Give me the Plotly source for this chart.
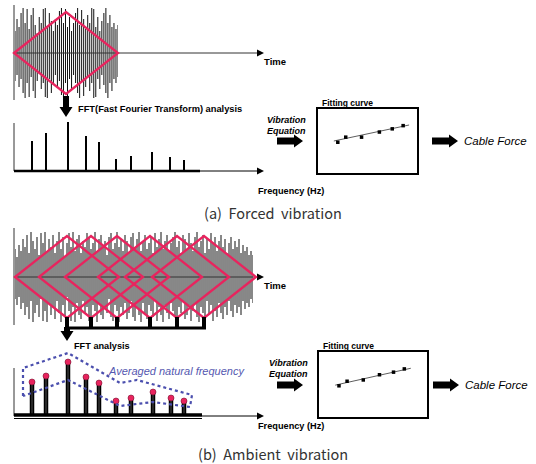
import plotly.graph_objects as go

W, H = 536, 464

# ------------------------- data -------------------------
# (a) forced vibration: time record (successive excursions, px)
sig_a = [28, 22, 34, 26, 40, 45, 30, 44, 24, 38, 45, 28, 20, 36, 30, 44, 45, 26,
         40, 32, 22, 34, 28, 42, 45, 30, 44, 26, 36, 22, 30, 40, 45, 28, 43, 34,
         24, 38, 30, 45, 44, 26, 36, 22, 32, 40, 45, 30, 38, 26, 30, 24]
# (b) ambient vibration: time record
sig_b = [22, 28, 20, 32, 26, 38, 30, 42, 24, 45, 36, 28, 40, 22, 44, 34, 45, 26, 38, 30,
         42, 24, 36, 45, 28, 40, 20, 34, 44, 30, 45, 26, 38, 42, 24, 36, 30, 44, 40, 28,
         34, 45, 26, 38, 42, 30, 36, 22, 40, 44, 28, 34, 45, 30, 38, 26, 42, 36, 24, 40,
         44, 30, 38, 45, 26, 36, 42, 28, 34, 40, 24, 44, 30, 38, 45, 28, 36, 42, 26, 34,
         40, 45, 30, 36, 24, 42, 38, 28, 44, 34, 26, 40, 45, 30, 36, 42, 24, 38, 28, 44,
         34, 40, 26, 36, 42, 30, 38, 24, 34, 40, 28, 36, 30, 38, 24, 32, 26, 30, 22, 26]

# spectra
spec_a_freq = [1.8, 3.2, 5.4, 7.2, 8.5, 10.2, 11.7, 13.8, 15.6, 17.0]
spec_a_amp = [30, 38, 49, 35, 29, 12, 15, 19, 14, 11]
spec_b_freq = [1.8, 3.2, 5.4, 7.2, 8.5, 10.2, 11.7, 13.9, 15.7, 17.0]
spec_b_amp = [34, 40, 54, 39, 33, 15, 18, 24, 18, 15]
# averaged natural frequency band (dotted outline)
band_freq = [0.9, 0.9, 5.4, 10.6, 12.3, 17.8, 17.6, 13.9, 10.6, 5.4, 0.9]
band_amp = [20, 48, 63, 33, 36, 21, 9, 14, 10, 36, 20]

# fitting curves
fit_a_x = [2.0, 2.8, 4.4, 6.2, 7.5, 8.6]
fit_a_y = [4.8, 5.6, 5.6, 6.4, 6.9, 7.4]
fit_a_line_x = [1.6, 9.2]
fit_a_line_y = [5.0, 7.5]
fit_b_x = [1.85, 2.6, 4.1, 5.6, 6.9, 7.9]
fit_b_y = [4.8, 5.5, 5.7, 6.5, 6.9, 7.4]
fit_b_line_x = [1.5, 8.5]
fit_b_line_y = [4.9, 7.5]

# ------------------------- styling / layout -------------------------
PINK = "#E8245E"
BLUE = "#4B4FAE"
FONT = "Arial, Liberation Sans, sans-serif"
win_a_center = (66, 53)
win_b_centers = [67, 91, 117, 150, 177, 204]
win_b_cy = 277
win_hw, win_hh = 52, 41


def dx(p0, p1):
    return [p0 / W, p1 / W]


def dy(top, bottom):
    return [1 - bottom / H, 1 - top / H]


fig = go.Figure()


def sticks(fr, am):
    xs, ys = [], []
    for f, a in zip(fr, am):
        xs += [f, f, None]
        ys += [0, a, None]
    return xs, ys


def strokes(vals):
    n = len(vals)
    xs, ys = [], []
    for i in range(n):
        xs += [i, i, None]
        ys += [-vals[i], vals[(i + 1) % n], None]
    return xs, ys


# waveforms
xw, yw = strokes(sig_a)
fig.add_trace(go.Scatter(x=xw, y=yw, mode="lines", line=dict(color="#111", width=1),
                         xaxis="x5", yaxis="y5", hoverinfo="skip"))
xw, yw = strokes(sig_b)
fig.add_trace(go.Scatter(x=xw, y=yw, mode="lines", line=dict(color="#111", width=1),
                         xaxis="x6", yaxis="y6", hoverinfo="skip"))

# spectrum (a)
xs, ys = sticks(spec_a_freq, spec_a_amp)
fig.add_trace(go.Scatter(x=xs, y=ys, mode="lines", line=dict(color="black", width=2),
                         xaxis="x2", yaxis="y2", hoverinfo="skip"))
# spectrum (b)
xs, ys = sticks(spec_b_freq, spec_b_amp)
fig.add_trace(go.Scatter(x=xs, y=ys, mode="lines", line=dict(color="black", width=4.5),
                         xaxis="x3", yaxis="y3", hoverinfo="skip"))
fig.add_trace(go.Scatter(x=xs, y=ys, mode="lines", line=dict(color="#666", width=0.8),
                         xaxis="x3", yaxis="y3", hoverinfo="skip"))
fig.add_trace(go.Scatter(x=spec_b_freq, y=spec_b_amp, mode="markers",
                         marker=dict(color=PINK, size=6, line=dict(color="#7a1030", width=0.6)),
                         xaxis="x3", yaxis="y3", hoverinfo="skip"))
fig.add_trace(go.Scatter(x=band_freq, y=band_amp, mode="lines",
                         line=dict(color=BLUE, width=2.2, dash="dot"),
                         xaxis="x3", yaxis="y3", hoverinfo="skip"))

# fitting curves
for xa, ya, lx, ly, pts_x, pts_y in [("x4", "y4", fit_a_line_x, fit_a_line_y, fit_a_x, fit_a_y),
                                     ("x7", "y7", fit_b_line_x, fit_b_line_y, fit_b_x, fit_b_y)]:
    fig.add_trace(go.Scatter(x=lx, y=ly, mode="lines", line=dict(color="#333", width=0.8),
                             xaxis=xa, yaxis=ya, hoverinfo="skip"))
    fig.add_trace(go.Scatter(x=pts_x, y=pts_y, mode="markers",
                             marker=dict(color="black", size=3.5, symbol="square"),
                             xaxis=xa, yaxis=ya, hoverinfo="skip"))

hidden = dict(visible=False, fixedrange=True)
layout = dict(
    width=W, height=H, margin=dict(l=0, r=0, t=0, b=0),
    paper_bgcolor="white", plot_bgcolor="rgba(0,0,0,0)", showlegend=False,
    xaxis=dict(range=[0, W], domain=[0, 1], **hidden),
    yaxis=dict(range=[H, 0], domain=[0, 1], **hidden),
    xaxis2=dict(range=[0, 24.8], domain=dx(14, 262), anchor="y2", **hidden),
    yaxis2=dict(range=[0, 50], domain=dy(121, 171), anchor="x2", **hidden),
    xaxis3=dict(range=[0, 24.8], domain=dx(14, 262), anchor="y3", **hidden),
    yaxis3=dict(range=[0, 70], domain=dy(346, 416), anchor="x3", **hidden),
    xaxis5=dict(range=[0, len(sig_a) - 1], domain=dx(15, 118), anchor="y5", **hidden),
    yaxis5=dict(range=[-45, 45], domain=dy(8, 98), anchor="x5", **hidden),
    xaxis6=dict(range=[0, len(sig_b) - 1], domain=dx(15, 253), anchor="y6", **hidden),
    yaxis6=dict(range=[-45, 45], domain=dy(232, 322), anchor="x6", **hidden),
)
box = dict(showline=True, mirror=True, linecolor="black", linewidth=1.5, showgrid=False,
           zeroline=False, showticklabels=False, ticks="", fixedrange=True)
layout["xaxis4"] = dict(range=[0, 10], domain=dx(318, 417), anchor="y4", **box)
layout["yaxis4"] = dict(range=[0, 10], domain=dy(109, 173), anchor="x4", **box)
layout["xaxis7"] = dict(range=[0, 10], domain=dx(319, 427), anchor="y7", **box)
layout["yaxis7"] = dict(range=[0, 10], domain=dy(352, 417), anchor="x7", **box)
fig.update_layout(**layout)

shapes = []


def line(x0, y0, x1, y1, w=1, c="black"):
    shapes.append(dict(type="line", xref="x", yref="y", x0=x0, y0=y0, x1=x1, y1=y1,
                       line=dict(color=c, width=w), layer="above"))


def poly(pts, fill="black", lc=None, w=0):
    p = "M " + " L ".join(f"{a},{b}" for a, b in pts) + " Z"
    shapes.append(dict(type="path", xref="x", yref="y", path=p, fillcolor=fill,
                       line=dict(color=lc or fill, width=w), layer="above"))


def tri_right(x, y, s=3.5, L=7):
    poly([(x - L, y - s), (x, y), (x - L, y + s)])


def block_arrow(x0, x1, y):
    poly([(x0, y - 3.5), (x1 - 9, y - 3.5), (x1 - 9, y - 6.5), (x1, y),
          (x1 - 9, y + 6.5), (x1 - 9, y + 3.5), (x0, y + 3.5)])


def down_arrow(x, y0, y1, hw=6.5, hl=10):
    poly([(x - 3, y0), (x + 3, y0), (x + 3, y1 - hl), (x + hw, y1 - hl), (x, y1),
          (x - hw, y1 - hl), (x - 3, y1 - hl)])


def diamond(cx, cy):
    p = (f"M {cx - win_hw},{cy} L {cx},{cy - win_hh} L {cx + win_hw},{cy} "
         f"L {cx},{cy + win_hh} Z")
    shapes.append(dict(type="path", xref="x", yref="y", path=p,
                       line=dict(color=PINK, width=2.3), layer="above"))


# ---- panel (a)
line(14, 5, 14, 100, 1, "#333")
line(14, 53, 258, 53, 1, "#333")
tri_right(264, 53)
diamond(*win_a_center)
down_arrow(66, 96, 117)
line(14, 123, 14, 171, 1, "#333")
line(14, 171, 200, 171, 2.5)
line(200, 171, 258, 171, 1)
tri_right(264, 171)
block_arrow(277, 303, 141)
block_arrow(432, 458, 141)

# ---- panel (b)
line(14, 228, 14, 325, 1, "#333")
line(14, 277, 258, 277, 1, "#333")
tri_right(264, 277)
for c in win_b_centers:
    diamond(c, win_b_cy)
for c in win_b_centers:
    line(c, win_b_cy + win_hh - 1, c, 329, 4)
line(65, 328, 206, 328, 3)
down_arrow(67, 327, 341)
line(14, 368, 14, 416, 1, "#333")
line(14, 415, 202, 415, 3.5)
line(14, 418.5, 202, 418.5, 1)
line(202, 416, 258, 416, 1)
tri_right(264, 416)
block_arrow(277, 303, 385)
block_arrow(433, 459, 385)

fig.update_layout(shapes=shapes)


def txt(s, x, y, size=9, anchor="left", color="black", family=FONT):
    fig.add_annotation(text=s, x=x, y=y, xref="x", yref="y", showarrow=False,
                       xanchor=anchor, yanchor="middle",
                       font=dict(size=size, color=color, family=family))


CAP = "Noto Sans CJK KR, sans-serif"
txt("<b>Time</b>", 262, 61, 9.5)
txt("<b>FFT(Fast Fourier Transform) analysis</b>", 76, 109, 9.3)
txt("<b>Frequency (Hz)</b>", 256, 191, 9.2)
txt("<b><i>Vibration</i></b>", 308, 120, 9, "right")
txt("<b><i>Equation</i></b>", 308, 131, 9, "right")
txt("<b>Fitting curve</b>", 320, 103, 8.5)
txt("<i>Cable Force</i>", 462, 141, 11.5)
txt("(a)  Forced  vibration", 273, 212, 14.5, "center", "#333", CAP)

txt("<b>Time</b>", 262, 285, 9.5)
txt("<b>FFT analysis</b>", 72, 346, 9.2)
txt("<i>Averaged natural frequency</i>", 106, 371, 11, "left", "#5558B0")
txt("<b>Frequency (Hz)</b>", 256, 426, 9.2)
txt("<b><i>Vibration</i></b>", 310, 363, 9, "right")
txt("<b><i>Equation</i></b>", 310, 374, 9, "right")
txt("<b>Fitting curve</b>", 321, 346, 8.5)
txt("<i>Cable Force</i>", 463, 385, 11.5)
txt("(b)  Ambient  vibration", 273, 453, 14.5, "center", "#333", CAP)

fig.write_html("out.html", config={"displayModeBar": False},
               post_script="document.body.style.margin='0';document.body.style.overflow='hidden';")
